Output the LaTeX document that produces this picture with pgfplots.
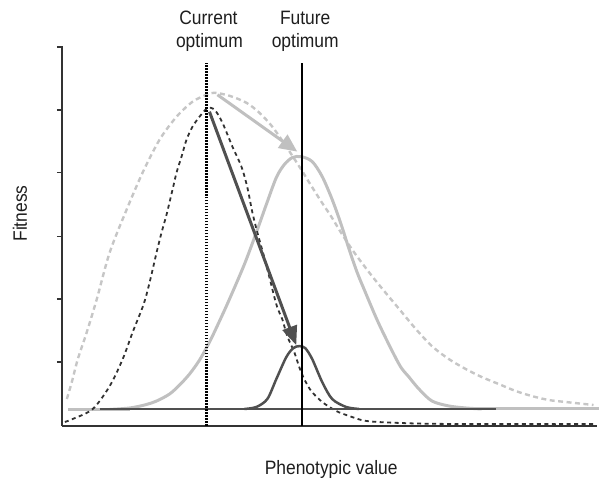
\documentclass[border=0pt]{standalone}
\usepackage{pgfplots}
\pgfplotsset{compat=1.18}
\usetikzlibrary{arrows.meta}
\usepackage{fontspec}
\setmainfont{Liberation Sans}[FakeStretch=0.9]
\definecolor{lgray}{RGB}{192,192,192}
\definecolor{lgrayd}{RGB}{198,198,198}
\definecolor{dgray}{RGB}{80,80,80}
\definecolor{ddash}{RGB}{50,50,50}
\definecolor{txt}{RGB}{30,30,30}
\begin{document}
\begin{tikzpicture}
\begin{axis}[
  scale only axis, width=536bp, height=381bp,
  xmin=62, xmax=598, ymin=0, ymax=381,
  clip=false,
  axis x line*=bottom, axis y line*=left,
  axis line style={-, draw=black!80, line width=1.6bp},
  xtick=\empty,
  ytick={64,127,190,254,317,380}, yticklabels={},
  tick align=outside, major tick length=5bp,
  tick style={draw=black!80, line width=1.6bp},
]
\path (axis cs:0,-54) rectangle (axis cs:600,427);
% light dashed wide curve
\addplot[lgrayd, line width=2.4bp, dash pattern=on 5bp off 3.5bp, smooth, tension=0.5] coordinates {
(67,27) (72,44) (78,67) (87,94) (97,127) (110,174) (127,217) (143,254) (160,287) (177,310) (193,325) (207,332) (215,334) (230,331) (247,324) (260,314) (273,300) (287,280) (302,257) (310,244) (322,225) (332,210) (343,192) (355,174) (370,154) (382,139) (402,115) (417,97) (433,80) (450,67) (467,57) (483,49) (500,42) (517,35) (533,30) (550,26) (567,24) (595,21)
};
% light solid
\addplot[lgray, line width=3bp] coordinates {(68,16.5) (130,16.5)};
\addplot[lgray, line width=3bp] coordinates {(467,17) (600,17)};
\addplot[lgray, line width=3bp, smooth, tension=0.5] coordinates {
(110,16.5) (130,18) (145,21) (157,25) (170,32) (180,41) (190,52) (200,66) (210,84) (220,105) (230,127) (245,162) (257,194) (267,222) (277,249) (285,262) (293,269) (302,270) (313,265) (323,250) (333,227) (342,202) (350,177) (358,154) (365,137) (380,102) (400,62) (410,49) (420,37) (433,25) (450,20) (467,18) (483,17)
};
% dark dashed narrow curve
\addplot[ddash, line width=1.8bp, dash pattern=on 4bp off 3.5bp, smooth, tension=0.5] coordinates {
(65,4) (73,7) (93,17) (110,40) (123,67) (133,94) (144,122) (150,144) (157,174) (162,194) (167,212) (173,237) (177,254) (182,270) (187,287) (193,300) (200,310) (207,318) (211,319) (216,316) (223,304) (233,280) (242,260) (248,239) (253,214) (258,194) (266,165) (277,122) (283,107) (288,90) (295,74) (300,59) (305,47) (312,35) (323,24) (337,15) (350,10) (367,5) (400,3) (450,2) (598,2)
};
% dark solid
\addplot[dgray, line width=2.5bp] coordinates {(100,17) (497,17)};
\addplot[dgray, line width=2.5bp, smooth, tension=0.5] coordinates {
(245,17) (257,19) (268,27) (277,47) (287,69) (294,78) (300,80) (306,78) (313,67) (323,44) (333,27) (347,19) (360,17)
};
% optimum lines
\addplot[black, line width=2.4bp, dash pattern=on 1.6bp off 1.4bp] coordinates {(207,0) (207,364)};
\addplot[black, line width=2.4bp] coordinates {(303,0) (303,364)};
% arrows
\addplot[lgray, line width=3bp, -{Triangle[length=18bp, width=16bp]}] coordinates {(218,332) (298,275)};
\addplot[dgray, line width=3bp, -{Triangle[length=19bp, width=15bp]}] coordinates {(210,315) (297,81)};
% labels
\node[anchor=base, text=txt, font=\fontsize{19.5}{23.5}\selectfont] at (axis cs:332,-49) {Phenotypic value};
\node[anchor=base, rotate=90, text=txt, font=\fontsize{19.5}{23.5}\selectfont] at (axis cs:27,213) {Fitness};
\node[anchor=base, text=txt, font=\fontsize{19.5}{23.5}\selectfont] at (axis cs:209,402) {Current};
\node[anchor=base, text=txt, font=\fontsize{19.5}{23.5}\selectfont] at (axis cs:210,379.5) {optimum};
\node[anchor=base, text=txt, font=\fontsize{19.5}{23.5}\selectfont] at (axis cs:306,402) {Future};
\node[anchor=base, text=txt, font=\fontsize{19.5}{23.5}\selectfont] at (axis cs:306,379.5) {optimum};
\end{axis}
\end{tikzpicture}
\end{document}
